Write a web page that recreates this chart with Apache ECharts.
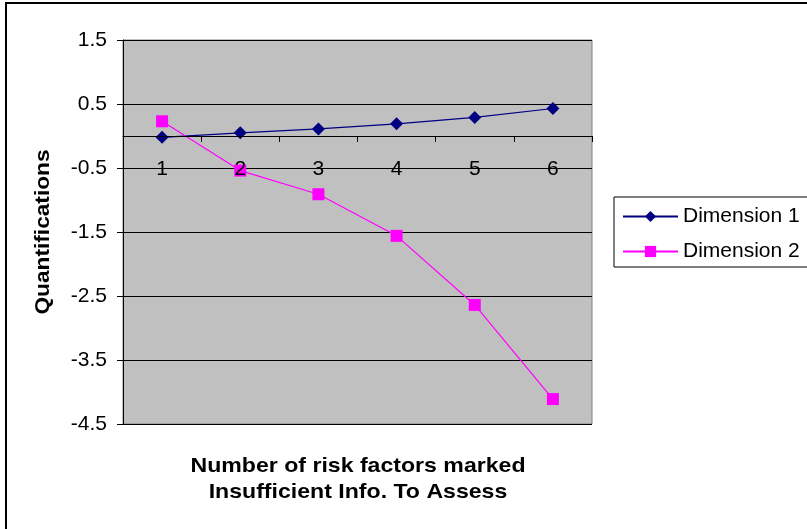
<!DOCTYPE html>
<html><head><meta charset="utf-8">
<script src="https://cdn.jsdelivr.net/npm/echarts@6/dist/echarts.min.js"></script>
<style>html,body{margin:0;padding:0;background:#fff}#c{width:807px;height:529px}</style>
</head><body><div id="c"></div>
<script>
const categories = ['1','2','3','4','5','6'];
const dimension1 = [-0.02, 0.05, 0.11, 0.19, 0.29, 0.43];
const dimension2 = [0.23, -0.54, -0.91, -1.56, -2.64, -4.11];
const seriesNames = ['Dimension 1', 'Dimension 2'];
const yTitle = 'Quantifications';
const xTitle = 'Number of risk factors marked\nInsufficient Info. To Assess';

const FONT = 'Liberation Sans, Arial, sans-serif';
const chart = echarts.init(document.getElementById('c'), null, {renderer: 'canvas'});
chart.setOption({
  animation: false,
  backgroundColor: '#fff',
  textStyle: {fontFamily: FONT, color: '#000'},
  graphic: [
    {type: 'rect', shape: {x: 6, y: 3, width: 900, height: 600}, style: {fill: 'none', stroke: '#000', lineWidth: 2}, z: 0},
    {type: 'rect', shape: {x: 614, y: 197, width: 300, height: 70}, style: {fill: '#fff', stroke: '#000', lineWidth: 1}, z: 1},
    {type: 'text', x: 43, y: 232, rotation: Math.PI/2, scaleX: 1.08, style: {text: yTitle, font: 'bold 21px ' + FONT, fill: '#000', textAlign: 'center', textVerticalAlign: 'middle'}, z: 5},
    {type: 'text', x: 358, y: 479, scaleX: 1.1, style: {text: xTitle, font: 'bold 21px ' + FONT, fill: '#000', textAlign: 'center', textVerticalAlign: 'middle', lineHeight: 26}, z: 5}
  ],
  legend: {
    orient: 'vertical', left: 617, top: 201, itemWidth: 55, itemHeight: 14, itemGap: 14,
    textStyle: {fontSize: 21, lineHeight: 21, fontFamily: FONT, color: '#000'},
    data: seriesNames, z: 10
  },
  grid: {left: 123, top: 40, width: 469, height: 384, show: true, backgroundColor: '#C0C0C0', borderColor: '#808080', borderWidth: 1},
  xAxis: {
    type: 'category', data: categories, boundaryGap: true, position: 'bottom', offset: -288, z: 6,
    axisLine: {onZero: false, lineStyle: {color: '#000', width: 1}},
    axisTick: {show: true, length: 6, lineStyle: {color: '#000'}},
    axisLabel: {margin: 23, fontSize: 21, color: '#000', fontFamily: FONT},
    splitLine: {show: false}
  },
  yAxis: {
    type: 'value', min: -4.5, max: 1.5, interval: 1,
    axisLine: {show: true, lineStyle: {color: '#000', width: 1}},
    axisTick: {show: true, length: 6, lineStyle: {color: '#000'}},
    axisLabel: {margin: 16, fontSize: 21, color: '#000', fontFamily: FONT, formatter: v => String(Math.round(v*10)/10)},
    splitLine: {show: true, lineStyle: {color: '#000', width: 1}}
  },
  series: [
    {name: seriesNames[0], type: 'line', data: dimension1, symbol: 'diamond', symbolSize: 13,
     itemStyle: {color: '#000080'}, lineStyle: {color: '#000080', width: 1.2}, z: 3},
    {name: seriesNames[1], type: 'line', data: dimension2, symbol: 'rect', symbolSize: 12,
     itemStyle: {color: '#FF00FF'}, lineStyle: {color: '#FF00FF', width: 1.2}, z: 4}
  ]
});
</script></body></html>
